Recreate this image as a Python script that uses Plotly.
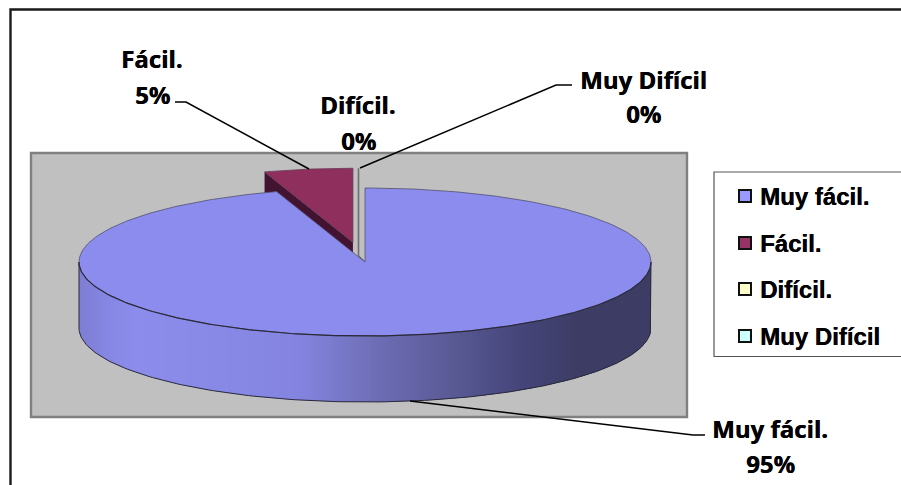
import numpy as np
import plotly.graph_objects as go

categories = ["Muy fácil.", "Fácil.", "Difícil.", "Muy Difícil"]
values = [95, 5, 0, 0]
percent_labels = ["95%", "5%", "0%", "0%"]
legend_colors = ["#9999ff", "#993366", "#ffffcc", "#ccffff"]

W, H = 901, 485
cx, cy, a, b, depth = 365, 262, 286, 74, 66
explode = 0.27

top_blue = "#8c8cee"
top_red = "#8e2f5e"
side_red = "#431432"
edge = "#2a2a3a"

side_stops_x = [79, 100, 135, 300, 380, 450, 520, 580, 651]
side_stops_r = [125, 132, 140, 132, 108, 90, 69, 60, 60]
side_stops_g = [125, 132, 140, 132, 108, 90, 69, 60, 60]
side_stops_b = [208, 225, 236, 224, 180, 150, 122, 100, 100]


def px(t, ox=0.0):
    return cx + ox + a * np.sin(np.radians(t))


def py(t, oy=0.0, d=0.0):
    return cy + oy + d - b * np.cos(np.radians(t))


fig = go.Figure()


def poly(xs, ys, fill, line=None, width=0.0):
    fig.add_trace(go.Scatter(
        x=list(xs), y=list(ys), mode="lines", fill="toself", fillcolor=fill,
        line=dict(color=line or fill, width=width), hoverinfo="skip", showlegend=False,
    ))


def stroke(xs, ys, color=edge, width=1.0):
    fig.add_trace(go.Scatter(
        x=list(xs), y=list(ys), mode="lines",
        line=dict(color=color, width=width), hoverinfo="skip", showlegend=False,
    ))


total = sum(values)
shares = [v / total * 360 for v in values]

# second slice: exploded wedge drawn first, main slice paints over its cut face
s0 = shares[0]
s1 = s0 + shares[1]
mid = np.radians((s0 + s1) / 2)
ox = explode * a * np.sin(mid)
oy = -explode * b * np.cos(mid)
ts = np.linspace(s0, s1, 30)
ax, ay = cx + ox, cy + oy
poly([ax, px(s0, ox), px(s0, ox), ax],
     [ay, py(s0, oy), py(s0, oy, depth), ay + depth], side_red)
poly([ax] + [px(t, ox) for t in ts] + [ax],
     [ay] + [py(t, oy) for t in ts] + [ay], top_red, "#6a3a55", 0.8)

# zero-value slices: only an edge remains
zx = cx - 6.5
stroke([zx, zx, cx], [py(s1, oy), cy - 6, cy], "#6e6e6e", 1.6)


def front_y(x, d=0.0):
    u = np.clip((x - cx) / a, -1, 1)
    return cy + d + b * np.sqrt(1 - u * u)


# main slice: side wall painted in overlapping columns so no seams show
cols = np.arange(cx - a, cx + a + 1, 2.0)
for x0 in cols:
    x1 = min(x0 + 4, cx + a)
    xs = np.linspace(x0, x1, 5)
    xm = x0 + 1
    r = np.interp(xm, side_stops_x, side_stops_r)
    g = np.interp(xm, side_stops_x, side_stops_g)
    bl = np.interp(xm, side_stops_x, side_stops_b)
    c = f"rgb({r:.0f},{g:.0f},{bl:.0f})"
    poly(list(xs) + list(xs[::-1]),
         [front_y(x) for x in xs] + [front_y(x, depth) for x in xs[::-1]], c)
tf = np.linspace(90, 270, 181)
stroke([px(tf[0])] + [px(t) for t in tf] + [px(tf[-1])],
       [py(tf[0])] + [py(t, 0, depth) for t in tf] + [py(tf[-1])], edge, 1.0)

tm = np.linspace(0, s0, 361)
poly([cx] + [px(t) for t in tm] + [cx],
     [cy] + [py(t) for t in tm] + [cy], top_blue, "#50506e", 0.8)
stroke([px(t) for t in tf], [py(t) for t in tf], edge, 1.2)

# legend swatches
legend_y = [196, 243, 289, 336]
fig.add_trace(go.Scatter(
    x=[745] * 4, y=legend_y, mode="markers", hoverinfo="skip", showlegend=False,
    marker=dict(symbol="square", size=12, color=legend_colors,
                line=dict(color="#111111", width=2)),
))

shapes = [
    dict(type="rect", layer="below", x0=10.5, y0=9.5, x1=920, y1=500,
         line=dict(color="#1a1a1a", width=2.4), fillcolor="#ffffff"),
    dict(type="rect", layer="below", x0=31, y0=153, x1=687, y1=417,
         line=dict(color="#808080", width=2.4), fillcolor="#c0c0c0"),
    dict(type="rect", layer="below", x0=714, y0=172, x1=905, y1=356.5,
         line=dict(color="#555555", width=1.2), fillcolor="#ffffff"),
]
leaders = [
    ([410, 693, 705], [401, 435, 435]),
    ([309, 186, 175], [169, 102, 102]),
    ([360, 556, 572], [168, 85, 85]),
]
for lx, ly in leaders:
    stroke(lx, ly, "#000000", 1.5)

heavy = "0.4px 0 0.2px #000000"
annotations = []
label_pos = [(770, 428, 463), (152, 58, 94), (358, 104, 140), (643, 79, 113)]
for name, pct, (x, y1, y2) in zip(categories, percent_labels, label_pos):
    for txt, y in ((name, y1), (pct, y2)):
        annotations.append(dict(x=x, y=y, text=f"<b>{txt}</b>", showarrow=False,
                                xanchor="center", yanchor="middle",
                                font=dict(family="Open Sans", size=24, color="#000000",
                                          shadow=heavy)))
for name, y in zip(categories, legend_y):
    annotations.append(dict(x=758, y=y, text=f"<b>{name}</b>", showarrow=False,
                            xanchor="left", yanchor="middle",
                            font=dict(family="Liberation Sans", size=24, color="#000000",
                                      shadow=heavy)))

fig.update_layout(
    width=W, height=H, margin=dict(l=0, r=0, t=0, b=0),
    paper_bgcolor="#ffffff", plot_bgcolor="#ffffff", showlegend=False,
    xaxis=dict(range=[0, W], visible=False, fixedrange=True),
    yaxis=dict(range=[H, 0], visible=False, fixedrange=True),
    shapes=shapes, annotations=annotations,
)
fig.write_html("out.html", config={"displayModeBar": False},
               post_script="document.body.style.margin='0';")
